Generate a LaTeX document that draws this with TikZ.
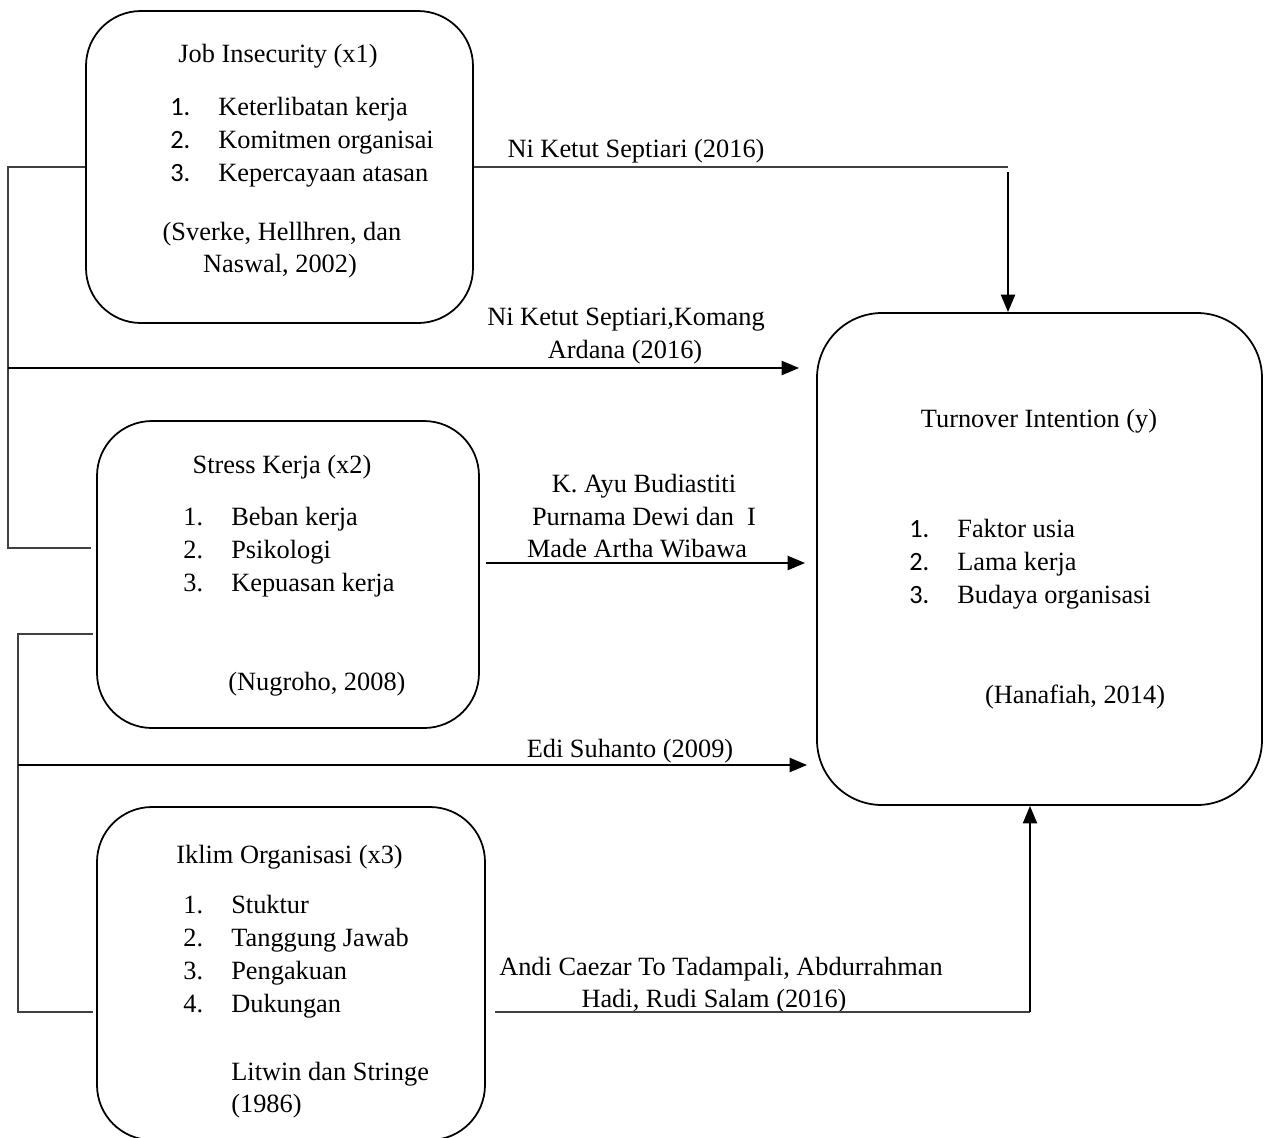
\documentclass[tikz,border=0pt]{standalone}
\usepackage{fontspec}
\setmainfont{Liberation Serif}
\newfontfamily\numfont{Carlito}
\usetikzlibrary{arrows.meta}
\newcommand\itm[2]{\makebox[0.96cm][l]{#1}#2}
\begin{document}
\begin{tikzpicture}[x=0.02cm,y=-0.02cm,
  font=\fontsize{15pt}{18.7pt}\selectfont,
  box/.style={draw, line width=1pt, rectangle, rounded corners=1.1cm, inner sep=0pt},
  txt/.style={inner sep=0pt, anchor=base},
  txtl/.style={inner sep=0pt, anchor=base west},
  conn/.style={line width=1.3pt, -{Triangle[width=8pt,length=10pt]}},
  thinline/.style={line width=0.8pt, black!75}]
\clip (0,0) rectangle (1268,1137);
% boxes
\node[box, minimum width={387*0.02cm}, minimum height={312*0.02cm}] (b1) at (279.5,167) {};
\node[box, minimum width={382*0.02cm}, minimum height={307*0.02cm}] (b2) at (288,574.5) {};
\node[box, minimum width={388*0.02cm}, minimum height={333*0.02cm}] (b3) at (291,973.5) {};
\node[box, rounded corners=1.3cm, minimum width={445*0.02cm}, minimum height={492*0.02cm}] (by) at (1039.5,559) {};
% box 1 text
\node[txt] (t1) at (278,62) {Job Insecurity (x1)};
\node[txtl] (t1a) at (170,115) {\itm{\numfont 1.}{Keterlibatan kerja}};
\node[txtl] (t1b) at (170,148) {\itm{\numfont 2.}{Komitmen organisai}};
\node[txtl] (t1c) at (170,181) {\itm{\numfont 3.}{Kepercayaan atasan}};
\node[txt] (t1d) at (282,240) {(Sverke, Hellhren, dan};
\node[txt] (t1e) at (280,272) {Naswal, 2002)};
% box 2 text
\node[txt] (t2) at (282,473) {Stress Kerja (x2)};
\node[txtl] (t2a) at (183,525) {\itm{1.}{Beban kerja}};
\node[txtl] (t2b) at (183,558) {\itm{2.}{Psikologi}};
\node[txtl] (t2c) at (183,591) {\itm{3.}{Kepuasan kerja}};
\node[txtl] (t2d) at (228,690) {(Nugroho, 2008)};
% box 3 text
\node[txtl] (t3) at (176,863) {Iklim Organisasi (x3)};
\node[txtl] (t3a) at (183,913) {\itm{1.}{Stuktur}};
\node[txtl] (t3b) at (183,946) {\itm{2.}{Tanggung Jawab}};
\node[txtl] (t3c) at (183,979) {\itm{3.}{Pengakuan}};
\node[txtl] (t3d) at (183,1012) {\itm{4.}{Dukungan}};
\node[txtl] (t3e) at (231,1080) {Litwin dan Stringe};
\node[txtl] (t3f) at (231,1112) {(1986)};
% box y text
\node[txt] (ty) at (1039,427) {Turnover Intention (y)};
\node[txtl] (tya) at (909,537) {\itm{\numfont 1.}{Faktor usia}};
\node[txtl] (tyb) at (909,570) {\itm{\numfont 2.}{Lama kerja}};
\node[txtl] (tyc) at (909,603) {\itm{\numfont 3.}{Budaya organisasi}};
\node[txt] (tyd) at (1075,703) {(Hanafiah, 2014)};
% connector labels
\node[txt] (l1) at (636,157) {Ni Ketut Septiari (2016)};
\node[txt] (l2a) at (626,325) {Ni Ketut Septiari,Komang};
\node[txt] (l2b) at (625,358) {Ardana (2016)};
\node[txt] (l3a) at (644,492) {K. Ayu Budiastiti};
\node[txt] (l3b) at (644,525) {Purnama Dewi dan\ \ I};
\node[txt] (l3c) at (637,557) {Made Artha Wibawa};
\node[txt] (l4) at (630,757) {Edi Suhanto (2009)};
\node[txt] (l5a) at (721,975) {Andi Caezar To Tadampali, Abdurrahman};
\node[txt] (l5b) at (714,1007) {Hadi, Rudi Salam (2016)};
% coordinates
\coordinate (c1) at (1008,167);
\coordinate (c1b) at (1008,172);
\coordinate (L1top) at (8,167);
\coordinate (L1bot) at (8,548);
\coordinate (L1mid) at (8,368);
\coordinate (L2top) at (18,634);
\coordinate (L2bot) at (18,1012);
\coordinate (L2mid) at (18,765);
\coordinate (c5) at (1030,1012);
\coordinate (c5s) at (494,1012);
% top connector
\draw[thinline] (b1.east |- c1) -- (c1);
\draw[conn] (c1b) -- (by.north -| c1b);
% bracket 1
\draw[thinline] (b1.west |- L1top) -- (L1top) -- (L1bot) -- ([xshift=-5*0.02cm]b2.west |- L1bot);
\draw[conn, shorten >=17*0.02cm] (L1mid) -- (by.west |- L1mid);
% K. Ayu arrow
\draw[conn, shorten >=11*0.02cm] ([xshift=6*0.02cm]b2.east |- 0,563) -- (by.west |- 0,563);
% bracket 2
\draw[thinline] ([xshift=-3*0.02cm]b2.west |- L2top) -- (L2top) -- (L2bot) -- ([xshift=-3*0.02cm]b3.west |- L2bot);
\draw[conn, shorten >=9*0.02cm] (L2mid) -- (by.west |- L2mid);
% bottom connector
\draw[thinline] ([xshift=9*0.02cm]b3.east |- c5s) -- (c5);
\draw[conn] (c5) -- (by.south -| c5);
\end{tikzpicture}
\end{document}
